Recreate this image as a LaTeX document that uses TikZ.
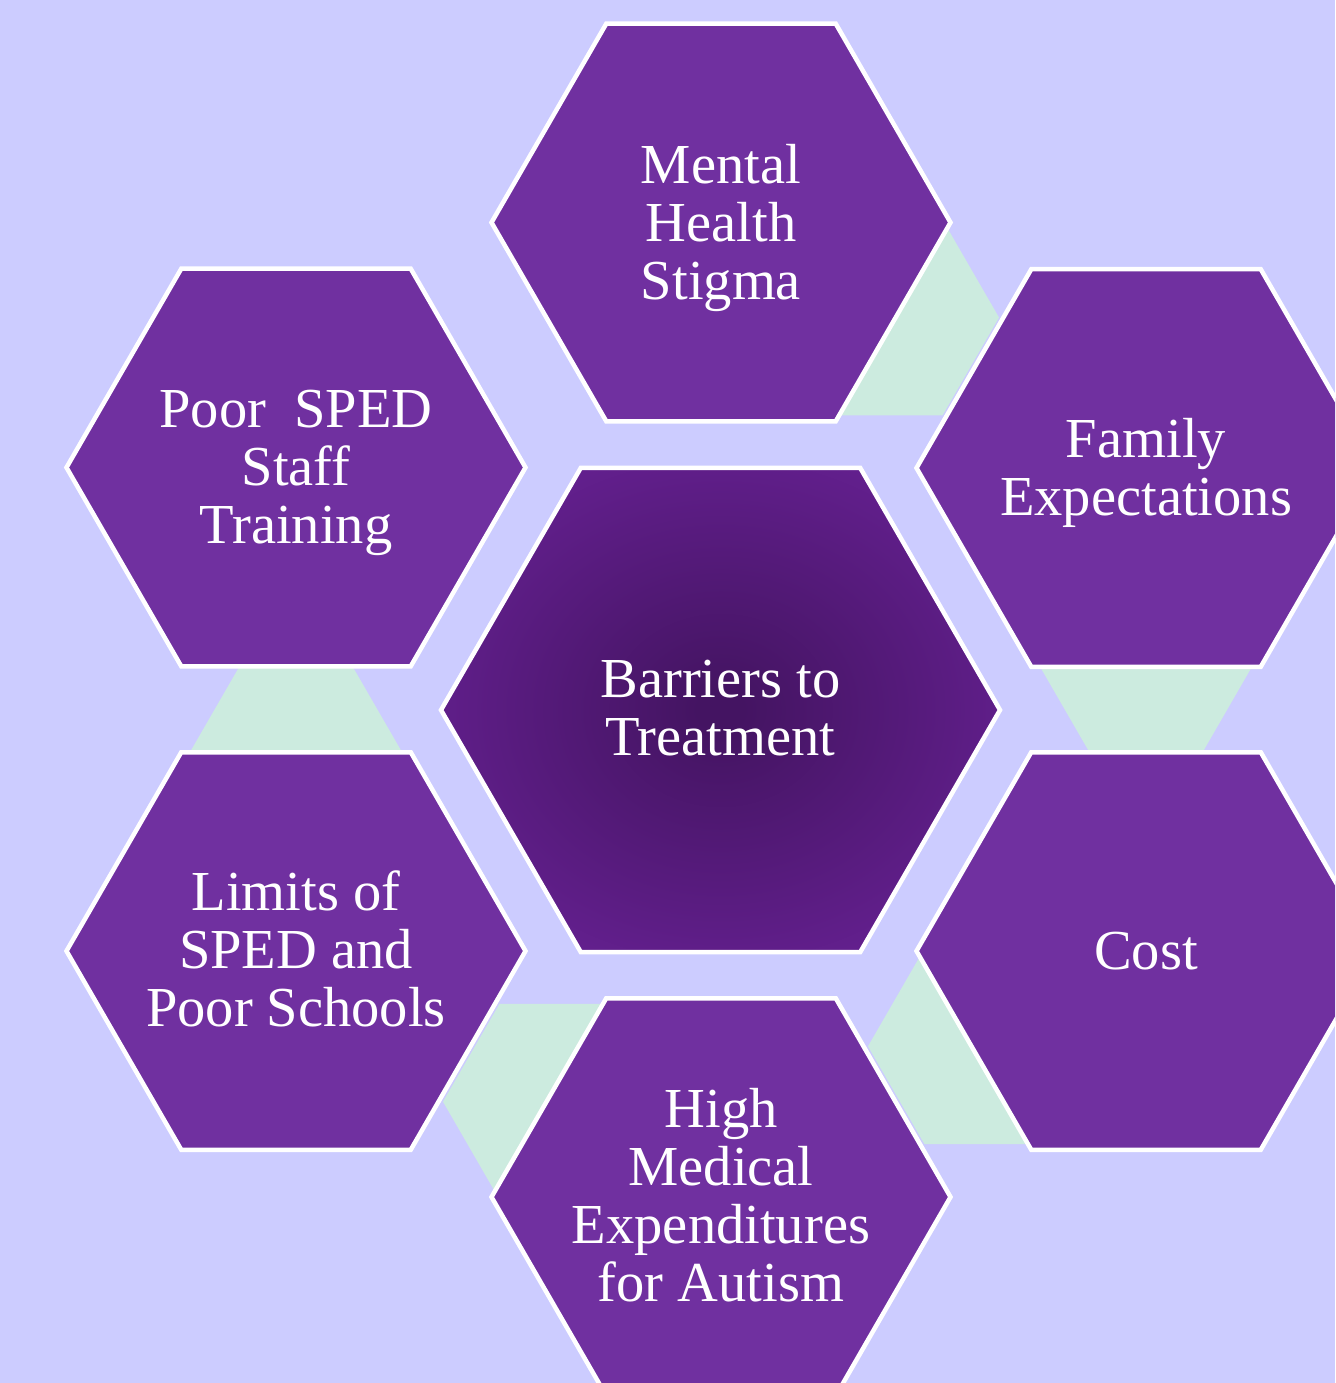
\documentclass[tikz,border=0pt]{standalone}
\usepackage{fontspec}
\setmainfont{Liberation Serif}
\definecolor{bg}{HTML}{CCCCFF}
\definecolor{hexfill}{HTML}{7030A0}
\definecolor{linkgreen}{HTML}{CCEBDF}
\definecolor{ctrin}{HTML}{441462}
\definecolor{ctrout}{HTML}{6A2298}
\pgfdeclareradialshading{ctrshade}{\pgfpoint{0bp}{0bp}}{color(0bp)=(ctrin); color(2bp)=(ctrin); color(34bp)=(ctrout); color(50bp)=(ctrout)}
\begin{document}
\begin{tikzpicture}[x=1pt,y=-1pt,
  hex/.style n args={3}{insert path={
    ({#1+#3},{#2}) -- ({#1+0.5*#3},{#2+0.8660254*#3}) -- ({#1-0.5*#3},{#2+0.8660254*#3})
    -- ({#1-#3},{#2}) -- ({#1-0.5*#3},{#2-0.8660254*#3}) -- ({#1+0.5*#3},{#2-0.8660254*#3}) -- cycle}},
  outerhex/.style={fill=hexfill, draw=white, line width=4.5pt},
  linkhex/.style={fill=linkgreen},
  centerhex/.style={shade, shading=ctrshade, draw=white, line width=4.5pt},
  lbl/.style={text=white, align=center, font=\fontsize{56.5}{58}\selectfont, inner sep=0pt}]
\useasboundingbox (0,0) rectangle (1335,1383);
\clip (0,0) rectangle (1335,1383);
\fill[bg] (0,0) rectangle (1335,1383);
% connecting small hexagons
\path[linkhex, hex={886}{317.5}{113}];
\path[linkhex, hex={1146}{654.5}{113}];
\path[linkhex, hex={981}{1046.3}{113}];
\path[linkhex, hex={556}{1101.7}{113}];
\path[linkhex, hex={296}{764.25}{113}];
% outer hexagons
\path[outerhex, hex={721}{222.5}{229.5}];
\path[outerhex, hex={1146}{468}{229.5}];
\path[outerhex, hex={1146}{951}{229.5}];
\path[outerhex, hex={721}{1197}{229.5}];
\path[outerhex, hex={296}{951}{229.5}];
\path[outerhex, hex={296}{467.5}{229.5}];
% center hexagon
\path[centerhex, hex={720.5}{710}{279.5}];
% labels
\node[lbl] (mental) at (721,227.5) {Mental\\Health\\Stigma};
\node[lbl] (family) at (1146,473) {Family\\Expectations};
\node[lbl] (cost) at (1146,951) {Cost};
\node[lbl] (high) at (721,1195) {High\\Medical\\Expenditures\\for Autism};
\node[lbl] (limits) at (296,949) {Limits of\\SPED and\\Poor Schools};
\node[lbl] (poor) at (296,472.5) {Poor\ \ SPED\\Staff\\Training};
\node[lbl] (center) at (720.5,708) {Barriers to\\Treatment};
\end{tikzpicture}
\end{document}
